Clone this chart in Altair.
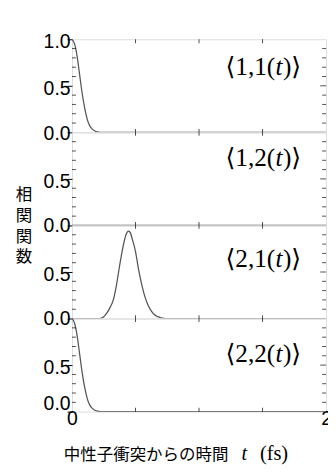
import altair as alt
import pandas as pd

# ---- data ----
t11 = [0.0, 0.02, 0.04, 0.06, 0.08, 0.10, 0.12, 0.14, 0.16, 0.18, 0.20, 0.22, 2.0]
c11 = [1.0, 0.95, 0.82, 0.62, 0.42, 0.26, 0.14, 0.07, 0.035, 0.015, 0.005, 0.0, 0.0]

t12 = [0.0, 2.0]
c12 = [0.0, 0.0]

t21 = [0.0, 0.20, 0.225, 0.25, 0.275, 0.30, 0.325, 0.35, 0.375, 0.40, 0.425, 0.445, 0.46,
       0.475, 0.50, 0.525, 0.55, 0.575, 0.60, 0.625, 0.65, 0.675, 0.70, 0.725, 0.75, 2.0]
c21 = [0.0, 0.0, 0.003, 0.02, 0.06, 0.12, 0.20, 0.36, 0.57, 0.76, 0.90, 0.94, 0.92,
       0.85, 0.72, 0.52, 0.36, 0.23, 0.14, 0.08, 0.04, 0.02, 0.008, 0.002, 0.0, 0.0]

t22 = [0.0, 0.02, 0.04, 0.06, 0.08, 0.10, 0.12, 0.14, 0.16, 0.18, 0.20, 0.22, 2.0]
c22 = [1.0, 0.95, 0.82, 0.62, 0.42, 0.26, 0.14, 0.07, 0.035, 0.015, 0.005, 0.0, 0.0]

panel_ij = [("1", "1"), ("1", "2"), ("2", "1"), ("2", "2")]
label_t = [1.63, 1.63, 1.63, 1.63]
label_c = [0.70, 0.72, 0.635, 0.62]

x_minor = [0.5, 1.0, 1.5]
y_minor = [0.1, 0.2, 0.3, 0.4, 0.6, 0.7, 0.8, 0.9]
y_major = [0.5]
x_labels = [0, 1, 2]
y_title = ["相", "関", "関", "数"]
x_title = "中性子衝突からの時間"
unit_t = "t"
unit_fs = "(fs)"
unit_t_pos = 1.334
unit_fs_pos = 1.479

SANS = "Liberation Sans"
SERIF = "Liberation Serif, DejaVu Serif"
CJK = "Noto Sans CJK JP"

W, H = 262, 96
TY = 44


def make_panel(k, t, c, yvals, offset_cond):
    last = k == 3
    if last:
        xaxis = alt.Axis(values=x_labels, format="d", labelFont=SANS, labelFontSize=20,
                         labelColor="black", ticks=False, domain=False, grid=False,
                         labelPadding=-3, labelFlush=False,
                         title=x_title, titleFont=CJK, titleFontSize=17,
                         titleFontWeight="normal", titleColor="black",
                         titleAlign="left", titleBaseline="middle",
                         titleX=-9, titleY=TY, titleAnchor="start")
    else:
        xaxis = None
    yaxis_kw = dict(values=yvals, format=".1f", labelFont=SANS, labelFontSize=20,
                    labelColor="black", domain=False, grid=False, ticks=True,
                    tickSize=5, tickColor="black", tickWidth=1, labelPadding=-3,
                    labelOffset=offset_cond)
    if k == 1:
        yaxis_kw.update(title=y_title, titleAngle=0, titleFont=CJK, titleFontSize=17,
                        titleFontWeight="normal", titleColor="black", titleAlign="center",
                        titleBaseline="middle", titleX=-50, titleY=64.5, titleLineHeight=21.4)
    else:
        yaxis_kw.update(title=None)
    X = alt.X("t:Q", scale=alt.Scale(domain=[0, 2], nice=False, zero=False), axis=xaxis)
    Y = alt.Y("c:Q", scale=alt.Scale(domain=[0, 1], nice=False), axis=alt.Axis(**yaxis_kw))

    line = alt.Chart(pd.DataFrame({"t": t, "c": c})).mark_line(
        color="#555555", strokeWidth=1.3, interpolate="monotone", clip=True
    ).encode(x=X, y=Y)

    left_minor = alt.Chart(pd.DataFrame({"t": [0.0] * len(y_minor), "c": y_minor})).mark_tick(
        orient="horizontal", size=4, thickness=1, color="black", xOffset=2
    ).encode(x=X, y=Y)
    right_minor = alt.Chart(pd.DataFrame({"t": [2.0] * len(y_minor), "c": y_minor})).mark_tick(
        orient="horizontal", size=4, thickness=1, color="black", xOffset=-2
    ).encode(x=X, y=Y)
    right_major = alt.Chart(pd.DataFrame({"t": [2.0] * len(y_major), "c": y_major})).mark_tick(
        orient="horizontal", size=6, thickness=1, color="black", xOffset=-3
    ).encode(x=X, y=Y)

    if k == 0:
        top = alt.Chart(pd.DataFrame({"t": x_minor, "c": [1.0] * 3})).mark_tick(
            orient="vertical", size=4, thickness=1, color="black", yOffset=2
        ).encode(x=X, y=Y)
    else:
        top = alt.Chart(pd.DataFrame({"t": x_minor, "c": [1.0] * 3})).mark_tick(
            orient="vertical", size=7, thickness=1, color="black"
        ).encode(x=X, y=Y)

    layers = [line, left_minor, right_minor, right_major, top]
    if last:
        bottom = alt.Chart(pd.DataFrame({"t": x_minor, "c": [0.0] * 3})).mark_tick(
            orient="vertical", size=4, thickness=1, color="black", yOffset=-2
        ).encode(x=X, y=Y)
        layers.append(bottom)
        ut = alt.Chart(pd.DataFrame({"t": [unit_t_pos], "c": [0.0]})).mark_text(
            text=unit_t, font=SERIF, fontSize=21, fontStyle="italic", align="left",
            baseline="middle", dy=TY, color="black"
        ).encode(x=X, y=Y)
        uf = alt.Chart(pd.DataFrame({"t": [unit_fs_pos], "c": [0.0]})).mark_text(
            text=unit_fs, font=SERIF, fontSize=21, align="left",
            baseline="middle", dy=TY, color="black"
        ).encode(x=X, y=Y)
        layers += [ut, uf]

    i, j = panel_ij[k]
    ldf = pd.DataFrame({"t": [label_t[k]], "c": [label_c[k]]})
    l1 = alt.Chart(ldf).mark_text(text="⟨" + i + "," + j + "(", font=SERIF, fontSize=26,
                                  align="right", baseline="middle", dx=-4, color="black"
                                  ).encode(x=X, y=Y)
    l2 = alt.Chart(ldf).mark_text(text="t", font=SERIF, fontSize=26, fontStyle="italic",
                                  align="center", baseline="middle", color="black"
                                  ).encode(x=X, y=Y)
    l3 = alt.Chart(ldf).mark_text(text=")⟩", font=SERIF, fontSize=26,
                                  align="left", baseline="middle", dx=4, color="black"
                                  ).encode(x=X, y=Y)
    layers += [l1, l2, l3]
    return alt.layer(*layers).properties(width=W, height=H)


p1 = make_panel(0, t11, c11, [0, 0.5, 1.0],
                {"condition": {"test": "datum.value == 0", "value": 1}, "value": 3})
p2 = make_panel(1, t12, c12, [0, 0.5],
                {"condition": {"test": "datum.value == 0", "value": 0}, "value": 3})
p3 = make_panel(2, t21, c21, [0, 0.5],
                {"condition": {"test": "datum.value == 0", "value": 0}, "value": 3})
p4 = make_panel(3, t22, c22, [0, 0.5],
                {"condition": {"test": "datum.value == 0", "value": -8}, "value": 3})

chart = alt.vconcat(p1, p2, p3, p4, spacing=0, bounds="flush").properties(
    padding={"left": 7, "top": 17, "right": -5, "bottom": 0}
).configure_view(stroke="black", strokeWidth=1.5).configure(background="white")

chart.save("out.html", embed_options={"renderer": "svg", "actions": False})
